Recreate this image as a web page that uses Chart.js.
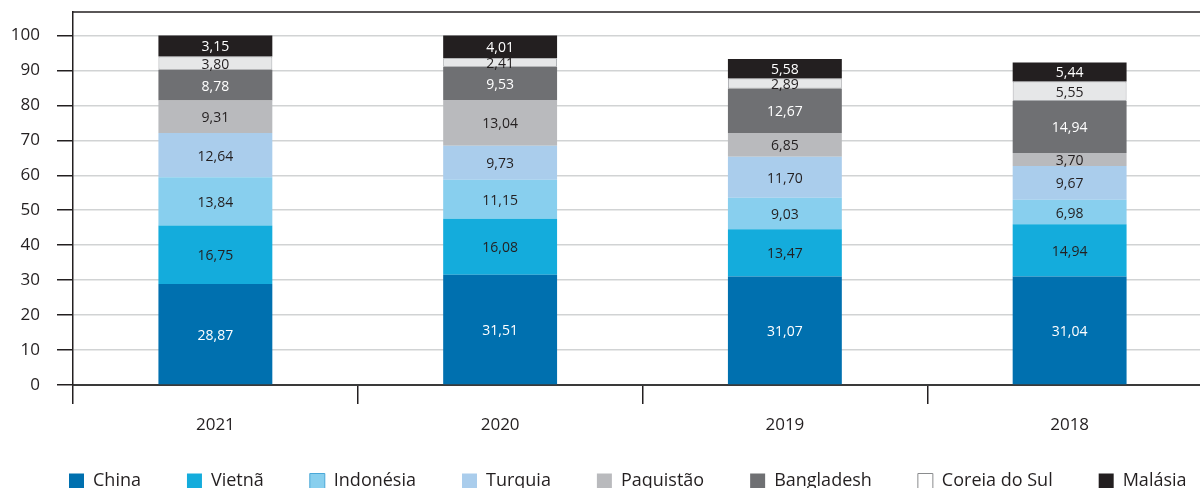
<!DOCTYPE html>
<html><head><meta charset="utf-8">
<script src="https://cdn.jsdelivr.net/npm/chart.js@4"></script>
<style>
html,body{margin:0;padding:0;width:1200px;height:488px;overflow:hidden;background:#fff}
#wrap{position:absolute;left:0;top:0;width:1230px;height:507px}
</style></head><body>
<div id="wrap"><canvas id="c"></canvas></div>
<script>
const years = ['2021', '2020', '2019', '2018'];
const seriesNames = ['China', 'Vietnã', 'Indonésia', 'Turquia', 'Paquistão', 'Bangladesh', 'Coreia do Sul', 'Malásia'];
const china = [28.87, 31.51, 31.07, 31.04];
const vietna = [16.75, 16.08, 13.47, 14.94];
const indonesia = [13.84, 11.15, 9.03, 6.98];
const turquia = [12.64, 9.73, 11.70, 9.67];
const paquistao = [9.31, 13.04, 6.85, 3.70];
const bangladesh = [8.78, 9.53, 12.67, 14.94];
const coreiaDoSul = [3.80, 2.41, 2.89, 5.55];
const malasia = [3.15, 4.01, 5.58, 5.44];            // printed values
const malasiaDrawn = [6.01, 6.55, 5.58, 5.44];       // segment height as drawn (2021/2020 bars reach 100)
const yTicks = [0, 10, 20, 30, 40, 50, 60, 70, 80, 90, 100];

const colors = ['#0070af', '#14acdc', '#88cfee', '#aacdec', '#b9babd', '#6f7073', '#e6e7e8', '#231f20'];
const labelColors = ['#ffffff', '#231f20', '#231f20', '#231f20', '#231f20', '#ffffff', '#231f20', '#ffffff'];
const legendFill = ['#0070af', '#14acdc', '#88cfee', '#aacdec', '#b9babd', '#6f7073', '#ffffff', '#231f20'];
const legendStroke = ['#0070af', '#14acdc', '#4aa8d8', '#aacdec', '#b9babd', '#6f7073', '#8a8c8e', '#231f20'];

const drawnValues = [china, vietna, indonesia, turquia, paquistao, bangladesh, coreiaDoSul, malasiaDrawn];
const printedValues = [china, vietna, indonesia, turquia, paquistao, bangladesh, coreiaDoSul, malasia];

const FONT = '"Open Sans", "Noto Sans", sans-serif';
const fmt = v => v.toFixed(2).replace('.', ',');

const datasets = seriesNames.map((name, i) => ({
  label: name,
  data: drawnValues[i],
  printed: printedValues[i],
  labelColor: labelColors[i],
  backgroundColor: colors[i],
  borderColor: i === 6 ? '#a7a9ac' : colors[i],
  borderWidth: i === 6 ? 1 : 0,
  borderSkipped: false,
  stack: 's',
  barPercentage: 0.4,
  categoryPercentage: 1.0
}));

const segLabels = {
  id: 'segLabels',
  afterDatasetsDraw(chart) {
    const ctx = chart.ctx;
    chart.data.datasets.forEach((ds, di) => {
      const meta = chart.getDatasetMeta(di);
      meta.data.forEach((bar, i) => {
        const y = (bar.y + bar.base) / 2;
        ctx.save();
        ctx.font = '14px ' + FONT;
        ctx.fillStyle = ds.labelColor;
        ctx.textAlign = 'center';
        ctx.textBaseline = 'middle';
        ctx.fillText(fmt(ds.printed[i]), bar.x, y + 1.5);
        ctx.restore();
      });
    });
  }
};

const frameTop = {
  id: 'frameTop',
  afterDraw(chart) {
    const {ctx, chartArea} = chart;
    ctx.save();
    ctx.strokeStyle = '#231f20';
    ctx.lineWidth = 1.5;
    ctx.beginPath();
    ctx.moveTo(chartArea.left - 0.75, chartArea.top);
    ctx.lineTo(chartArea.right, chartArea.top);
    ctx.stroke();
    ctx.restore();
  }
};

// place the legend row like the reference (one row, starting under the y axis ticks)
const legendPlace = {
  id: 'legendPlace',
  beforeDraw(chart) {
    const lg = chart.legend;
    if (!lg) return;
    lg.left = 23;
    lg.right = 2000;
    lg.top = chart.chartArea.bottom + 41;
  }
};

new Chart(document.getElementById('c'), {
  type: 'bar',
  data: { labels: years, datasets },
  options: {
    responsive: true,
    maintainAspectRatio: false,
    animation: false,
    layout: { padding: { top: 12, left: 0, right: 18, bottom: 0 } },
    plugins: {
      tooltip: { enabled: false },
      legend: {
        position: 'bottom',
        align: 'start',
        labels: {
          boxWidth: 15,
          boxHeight: 15,
          padding: 46,
          color: '#231f20',
          font: { family: FONT, size: 18 },
          generateLabels(chart) {
            return chart.data.datasets.map((ds, i) => ({
              text: ds.label,
              fillStyle: legendFill[i],
              strokeStyle: legendStroke[i],
              lineWidth: (i === 2 || i === 6) ? 1 : 0,
              hidden: false,
              datasetIndex: i,
              fontColor: '#231f20'
            }));
          }
        }
      }
    },
    scales: {
      x: {
        stacked: true,
        grid: {
          offset: true,
          drawOnChartArea: false,
          tickLength: 19,
          color: '#231f20',
          lineWidth: 1.5
        },
        border: { color: '#3a3a3a', width: 2 },
        ticks: { color: '#231f20', padding: 11, font: { family: FONT, size: 17 } },
        afterFit(scale) { scale.height = 48; scale.paddingLeft = 0; scale.paddingRight = 0; }
      },
      y: {
        stacked: true,
        min: 0,
        max: 106.7,
        afterBuildTicks(scale) { scale.ticks = yTicks.map(v => ({ value: v })); },
        grid: {
          color: c => (c.tick && c.tick.value === 0) ? '#3a3a3a' : '#d1d3d4',
          lineWidth: 1.5,
          tickColor: '#231f20',
          tickLength: 16,
          tickWidth: 1.5
        },
        border: { color: '#231f20', width: 1.5 },
        ticks: { color: '#231f20', padding: 17, font: { family: FONT, size: 17 } },
        afterFit(scale) { scale.width = 73; scale.paddingTop = 0; scale.paddingBottom = 0; }
      }
    }
  },
  plugins: [segLabels, frameTop, legendPlace]
});
</script>
</body></html>
